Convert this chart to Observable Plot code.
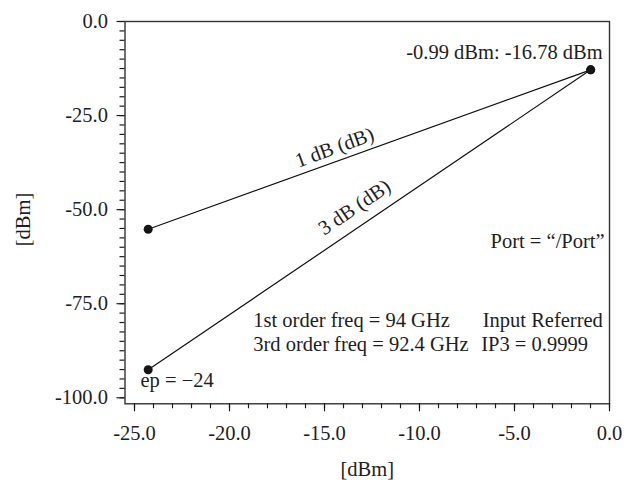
<!DOCTYPE html>
<html>
<head>
<meta charset="utf-8">
<script src="https://cdn.jsdelivr.net/npm/d3@7"></script>
<script src="https://cdn.jsdelivr.net/npm/@observablehq/plot@0.6"></script>
<style>
  html, body { margin: 0; padding: 0; background: #fff; }
  #chart svg { display: block; }
</style>
</head>
<body>
<div id="chart"></div>
<script>
// ---- data ----
const seriesNames = ["1 dB (dB)", "3 dB (dB)"];
const inputPower = [-24.28, -0.99];          // x, dBm
const firstOrderOut = [-55.2, -12.84];        // 1 dB line, dBm
const thirdOrderOut = [-92.56, -12.84];       // 3 dB line, dBm

const xTicks = [-25, -20, -15, -10, -5, 0];
const yTicks = [-100, -75, -50, -25, 0];
const xMinorTicks = [-25,-24,-23,-22,-21,-20,-19,-18,-17,-16,-15,-14,-13,-12,-11,-10,-9,-8,-7,-6,-5,-4,-3,-2,-1,0];
const yMinorTicks = [-100,-97.5,-95,-92.5,-90,-87.5,-85,-82.5,-80,-77.5,-75,-72.5,-70,-67.5,-65,-62.5,-60,-57.5,-55,-52.5,-50,-47.5,-45,-42.5,-40,-37.5,-35,-32.5,-30,-27.5,-25,-22.5,-20,-17.5,-15,-12.5,-10,-7.5,-5,-2.5,0];

// annotations (text + anchor in data coordinates)
const noteText = ["1st order freq = 94 GHz", "3rd order freq = 92.4 GHz", "Input Referred", "IP3 = 0.9999", "Port = \u201C/Port\u201D"];
const noteX = [-18.75, -18.75, -6.67, -6.75, -6.26];
const noteY = [-81.3, -87.6, -81.3, -87.6, -60.3];

const lineLabelX = [-14.47, -13.42];
const lineLabelY = [-33.5, -49.4];
const lineLabelAngle = [-19.9, -34.2];

const peakLabel = "-0.99 dBm: -16.78 dBm";
const startLabel = "ep = \u221224";

// build tidy rows
const rows = [];
[firstOrderOut, thirdOrderOut].forEach((vals, s) => {
  vals.forEach((v, i) => rows.push({series: seriesNames[s], x: inputPower[i], y: v}));
});

const ink = "#1e1e1e";

const chart = Plot.plot({
  width: 635,
  height: 483,
  marginLeft: 124.5,
  marginRight: 26,
  marginTop: 21,
  marginBottom: 79.7,
  style: {fontFamily: "'Liberation Serif', 'Times New Roman', serif", fontSize: "20.5px", color: ink, background: "#fff"},
  x: {domain: [-25.5, 0]},
  y: {domain: [-101.6, 0]},
  marks: [
    Plot.frame({stroke: "#333", strokeWidth: 1.4}),
    Plot.axisX({ticks: xMinorTicks, tickSize: 5, fill: "none", stroke: ink, strokeWidth: 1.2, label: null}),
    Plot.axisX({ticks: xTicks, tickSize: 8, tickPadding: 13.5, stroke: ink, strokeWidth: 1.2, fill: ink,
                tickFormat: d => d.toFixed(1), label: null}),
    Plot.axisY({ticks: yMinorTicks, tickSize: 5, fill: "none", stroke: ink, strokeWidth: 1.2, label: null}),
    Plot.axisY({ticks: yTicks, tickSize: 8, tickPadding: 9, stroke: ink, strokeWidth: 1.2, fill: ink,
                tickFormat: d => d.toFixed(1), label: null}),
    Plot.line(rows, {x: "x", y: "y", z: "series", stroke: "#111", strokeWidth: 1.2}),
    Plot.dot(rows, {x: "x", y: "y", r: 4.5, fill: "#151515", stroke: null}),
    Plot.text(seriesNames, {
      x: (d, i) => lineLabelX[i], y: (d, i) => lineLabelY[i], text: d => d,
      rotate: (d, i) => lineLabelAngle[i], textAnchor: "middle", lineAnchor: "middle", fill: ink
    }),
    Plot.text([peakLabel], {x: () => inputPower[1], y: () => firstOrderOut[1], text: d => d,
      textAnchor: "end", lineAnchor: "bottom", dx: 12, dy: -11, fill: ink}),
    Plot.text([startLabel], {x: () => inputPower[0], y: () => thirdOrderOut[0], text: d => d,
      textAnchor: "start", lineAnchor: "bottom", dx: -7.7, dy: 17.7, fill: ink}),
    Plot.text(noteText, {x: (d, i) => noteX[i], y: (d, i) => noteY[i], text: d => d,
      textAnchor: "start", lineAnchor: "bottom", fill: ink}),
    Plot.text(["[dBm]"], {frameAnchor: "bottom", text: d => d, textAnchor: "middle", lineAnchor: "bottom", dy: 72, fill: ink}),
    Plot.text(["[dBm]"], {frameAnchor: "left", text: d => d, textAnchor: "middle", lineAnchor: "bottom", rotate: -90, dx: -94.8, dy: 6.9, fill: ink})
  ]
});

document.getElementById("chart").appendChild(chart);
</script>
</body>
</html>
